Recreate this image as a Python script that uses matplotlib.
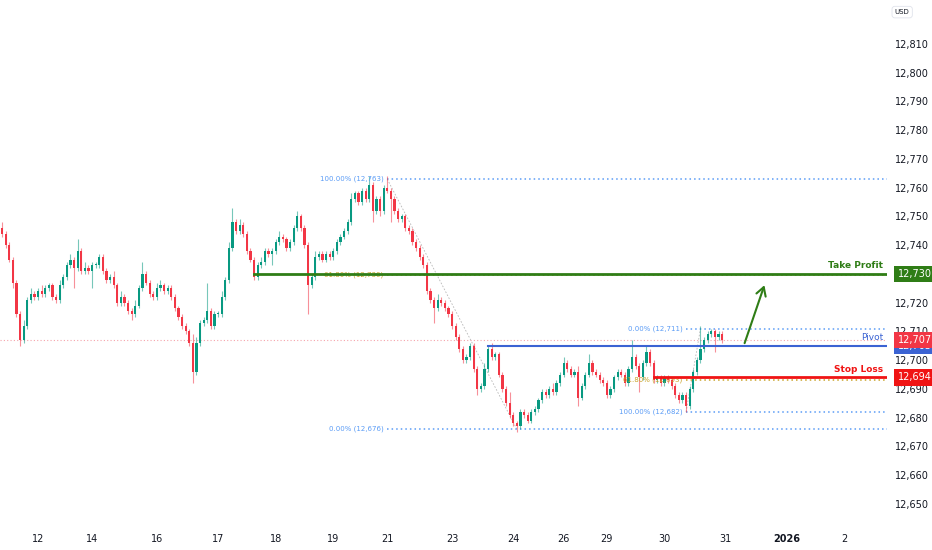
import matplotlib.pyplot as plt
import matplotlib.transforms as mtransforms
import numpy as np

# ── Data ──────────────────────────────────────────────────────────────────────
closes = [
    12744, 12740, 12735, 12727, 12716, 12707, 12712, 12721, 12723, 12722,
    12724, 12723, 12725, 12726, 12722, 12721, 12726, 12729, 12733, 12735,
    12732, 12738, 12731, 12732, 12731, 12733, 12733, 12736, 12731, 12728,
    12729, 12726, 12720, 12722, 12720, 12717, 12716, 12719, 12725, 12730,
    12727, 12723, 12722, 12725, 12726, 12724, 12725, 12722, 12718, 12715,
    12712, 12710, 12706, 12696, 12706, 12713, 12714, 12717, 12712, 12716,
    12716, 12722, 12728, 12739, 12748, 12745, 12747, 12744, 12738, 12735,
    12729, 12733, 12734, 12738, 12737, 12738, 12741, 12743, 12742, 12739,
    12741, 12746, 12750, 12746, 12740, 12726, 12729, 12736, 12737, 12735,
    12737, 12736, 12738, 12741, 12743, 12745, 12748, 12756, 12758, 12755,
    12759, 12756, 12761, 12752, 12756, 12752, 12760, 12759, 12756, 12752,
    12749, 12750, 12746, 12745, 12741, 12739, 12736, 12733, 12724, 12721,
    12718, 12721, 12720, 12718, 12716, 12712, 12708, 12704, 12700, 12701,
    12705, 12697, 12690, 12691, 12697, 12704, 12701, 12702, 12695, 12690,
    12685, 12681, 12678, 12677, 12682, 12681, 12679, 12682, 12683, 12686,
    12689, 12688, 12690, 12689, 12692, 12695, 12699, 12697, 12695, 12696,
    12687, 12691, 12695, 12699, 12696, 12695, 12693, 12692, 12688, 12690,
    12694, 12696, 12695, 12692, 12697, 12701, 12698, 12694, 12699, 12703,
    12699, 12693, 12694, 12692, 12694, 12693, 12691, 12688, 12686, 12688,
    12684, 12690, 12696, 12700, 12704, 12707, 12709, 12710, 12708, 12709,
    12707,
]
first_open = 12746

wick_up = [
    2, 1, 1, 1, 1, 1, 2, 1, 2, 1,
    1, 2, 1, 1, 1, 1, 2, 1, 1, 2,
    1, 4, 1, 2, 1, 1, 1, 1, 1, 1,
    1, 2, 1, 2, 1, 1, 1, 2, 1, 4,
    1, 1, 1, 2, 2, 1, 1, 1, 1, 1,
    1, 1, 1, 3, 2, 1, 1, 10, 1, 1,
    1, 2, 1, 2, 5, 1, 2, 1, 1, 1,
    1, 1, 2, 1, 1, 1, 1, 2, 1, 1,
    1, 1, 2, 1, 1, 1, 1, 2, 1, 1,
    1, 1, 1, 1, 1, 1, 1, 2, 1, 1,
    1, 1, 3, 1, 1, 1, 1, 4, 1, 1,
    1, 1, 1, 1, 1, 1, 1, 1, 1, 1,
    1, 2, 1, 1, 1, 1, 1, 1, 1, 1,
    1, 1, 1, 1, 2, 1, 2, 1, 1, 1,
    1, 4, 1, 1, 1, 1, 1, 1, 1, 1,
    1, 1, 1, 2, 1, 1, 2, 1, 1, 1,
    2, 1, 1, 3, 1, 1, 1, 1, 1, 1,
    1, 1, 1, 1, 1, 6, 1, 1, 1, 2,
    1, 1, 1, 1, 1, 1, 1, 1, 1, 1,
    1, 1, 1, 1, 8, 1, 1, 1, 1, 1,
    1,
]
wick_dn = [
    1, 1, 1, 2, 1, 2, 1, 1, 1, 1,
    1, 1, 1, 1, 1, 1, 1, 1, 1, 1,
    7, 1, 1, 1, 1, 6, 1, 1, 1, 1,
    1, 1, 1, 1, 1, 1, 2, 1, 1, 1,
    1, 1, 1, 1, 1, 1, 1, 1, 1, 1,
    1, 1, 1, 4, 1, 1, 1, 1, 1, 1,
    1, 1, 1, 1, 1, 1, 1, 1, 1, 1,
    1, 1, 1, 1, 1, 4, 1, 1, 1, 1,
    1, 1, 1, 1, 1, 10, 1, 1, 1, 1,
    1, 1, 1, 1, 1, 1, 1, 1, 1, 1,
    1, 1, 1, 4, 1, 2, 1, 1, 8, 1,
    1, 1, 1, 1, 1, 1, 1, 1, 1, 1,
    5, 1, 1, 1, 1, 1, 1, 1, 1, 1,
    1, 1, 2, 1, 1, 1, 1, 1, 1, 1,
    1, 1, 1, 2, 1, 1, 1, 1, 1, 1,
    1, 1, 1, 1, 1, 1, 1, 1, 1, 1,
    3, 1, 1, 1, 1, 1, 1, 1, 1, 1,
    1, 1, 1, 1, 1, 1, 1, 5, 1, 1,
    1, 1, 1, 1, 1, 1, 1, 1, 1, 1,
    2, 1, 1, 1, 1, 1, 1, 1, 5, 1,
    1,
]

date_pos    = [10, 25, 43, 60, 76, 92, 107, 125, 142, 156, 168, 184, 201, 218, 234]
date_labels = ['12', '14', '16', '17', '18', '19', '21', '23', '24', '26',
               '29', '30', '31', '2026', '2']
price_ticks = list(range(12650, 12811, 10))

# fib retracements: (start index, price at 0%, price at 100%, end of trend line)
fib_big   = (107, 12676, 12763, 143)
fib_small = (190, 12711, 12682, 194)
fib_ratios = [0.0, 0.618, 1.0]

take_profit, tp_start = 12730, 70
pivot, pivot_start    = 12705, 135
stop_loss, sl_start   = 12694, 181
last_price            = 12707
arrow_from, arrow_to  = (206, 12705), (212, 12727)

# ── Style ─────────────────────────────────────────────────────────────────────
UP, DN = '#089981', '#f23645'
FIB_BLUE, FIB_GOLD = '#5b9cf6', '#c9a227'
TP_C, PV_C, SL_C = '#2f7d16', '#3b63d3', '#f01414'

fig = plt.figure(figsize=(9.32, 5.5), dpi=100)
fig.patch.set_facecolor('white')
ax = fig.add_axes([0, 28 / 550, 887 / 932, 522 / 550])
ax.set_facecolor('white')

# ── Candles ───────────────────────────────────────────────────────────────────
opens = [first_open] + closes[:-1]
for i, (o, c) in enumerate(zip(opens, closes)):
    col = UP if c >= o else DN
    top, bot = max(o, c), min(o, c)
    ax.vlines(i, bot - wick_dn[i], top + wick_up[i], color=col, lw=0.8,
              alpha=0.55, zorder=2)
    h = max(top - bot, 0.4)
    ax.bar(i, h, bottom=bot, width=0.62, color=col, lw=0, zorder=3)

# ── Last price line ───────────────────────────────────────────────────────────
ax.axhline(last_price, color='#f5a3aa', lw=0.8, ls=(0, (1, 2)), zorder=1)

# ── Fibonacci levels ──────────────────────────────────────────────────────────
x_right = 245.8
for x0, p0, p100, x1 in [fib_big, fib_small]:
    ax.plot([x0, x1], [p100, p0], color='#b8b8b8', lw=0.6, ls=(0, (2, 2)), zorder=1)
    for r in fib_ratios:
        lvl = p0 + r * (p100 - p0)
        col = FIB_GOLD if r == 0.618 else FIB_BLUE
        ax.plot([x0, x_right], [lvl, lvl], color=col, lw=1.1, ls=(0, (1, 2)),
                zorder=1)
        ax.text(x0 - 1.0, lvl, f'{r * 100:.2f}% ({lvl:,.0f})', color=col,
                fontsize=5, ha='right', va='center', zorder=4)

# ── Trade levels ──────────────────────────────────────────────────────────────
ax.plot([tp_start, x_right], [take_profit] * 2, color=TP_C, lw=2, zorder=4)
ax.plot([pivot_start, x_right], [pivot] * 2, color=PV_C, lw=1.5, zorder=4)
ax.plot([sl_start, x_right], [stop_loss] * 2, color=SL_C, lw=2, zorder=4)

ax.text(x_right - 1, take_profit + 1.3, 'Take Profit', color=TP_C, fontsize=6.5,
        fontweight='bold', ha='right', va='bottom')
ax.text(x_right - 1, pivot + 1.3, 'Pivot', color=PV_C, fontsize=6.5,
        ha='right', va='bottom')
ax.text(x_right - 1, stop_loss + 1.3, 'Stop Loss', color=SL_C, fontsize=6.5,
        fontweight='bold', ha='right', va='bottom')

ax.annotate('', xy=arrow_to, xytext=arrow_from,
            arrowprops=dict(arrowstyle='->,head_length=0.6,head_width=0.35',
                            color=TP_C, lw=1.5))

# ── Axes ──────────────────────────────────────────────────────────────────────
ax.set_xlim(-0.56, x_right)
ax.set_ylim(12643.7, 12825.3)
for s in ax.spines.values():
    s.set_visible(False)

# the take-profit tag hides its tick label, as on the reference
ax.yaxis.tick_right()
ax.set_yticks(price_ticks)
ax.set_yticklabels(['' if p == take_profit else f'{p:,}' for p in price_ticks])
ax.tick_params(axis='y', length=0, pad=6, labelsize=7, labelcolor='#131722')
ax.set_xticks(date_pos)
ax.set_xticklabels(date_labels)
ax.tick_params(axis='x', length=0, pad=9, labelsize=7, labelcolor='#131722')
for lab in ax.get_xticklabels():
    if lab.get_text() == '2026':
        lab.set_fontweight('bold')

# price tags on the axis
trans = mtransforms.blended_transform_factory(ax.transAxes, ax.transData)
for val, col in [(take_profit, TP_C), (pivot, PV_C), (last_price, DN), (stop_loss, SL_C)]:
    ax.text(1.012, val, f'{val:,}', transform=trans, color='white', fontsize=7,
            ha='left', va='center', clip_on=False, zorder=6,
            bbox=dict(boxstyle='square,pad=0.35', fc=col, ec='none'))

fig.text(0.968, 0.978, 'USD', fontsize=5, color='#131722', ha='center', va='center',
         bbox=dict(boxstyle='round,pad=0.4', fc='white', ec='#e0e3eb', lw=0.6))

plt.savefig('out.png', dpi=100, facecolor='white')
